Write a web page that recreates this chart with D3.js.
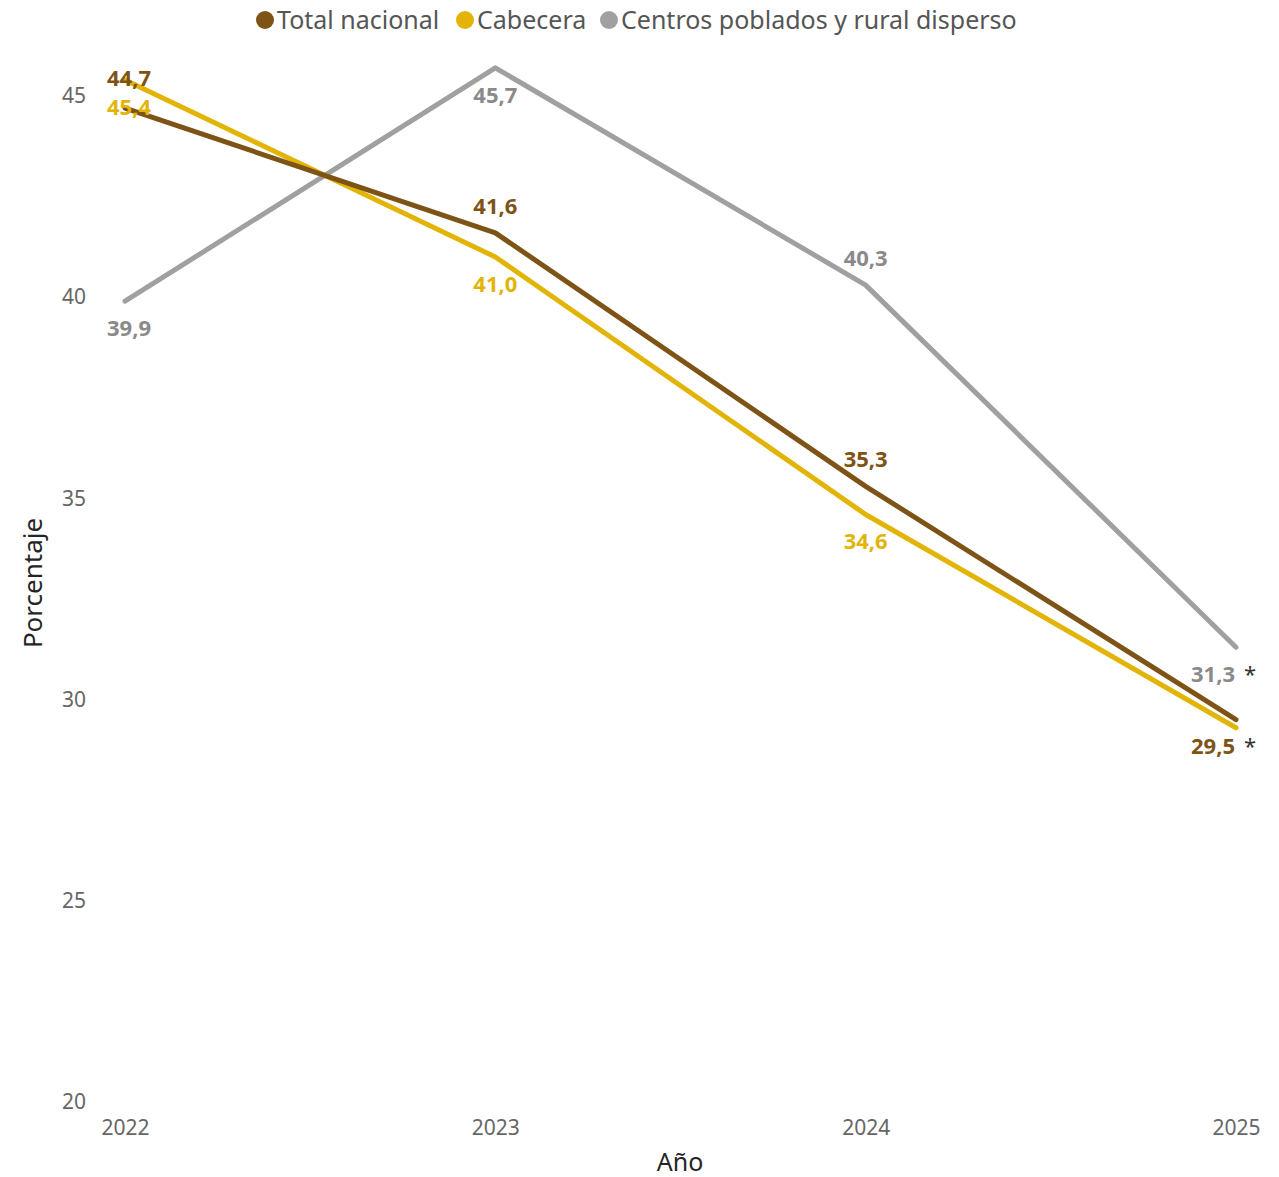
<!DOCTYPE html>
<html>
<head>
<meta charset="utf-8">
<script src="https://cdn.jsdelivr.net/npm/d3@7"></script>
<style>
  body { margin: 0; background: #fff; }
  svg { font-family: "Segoe UI", "Noto Sans", sans-serif; }
</style>
</head>
<body>
<div id="chart"></div>
<script>
// Data
const years = ['2022', '2023', '2024', '2025'];
const seriesNames = ['Total nacional', 'Cabecera', 'Centros poblados y rural disperso'];
const totalNacional = [44.7, 41.6, 35.3, 29.5];
const cabecera = [45.4, 41.0, 34.6, 29.3];
const rural = [39.9, 45.7, 40.3, 31.3];
// where each data label sits: 'a' above, 'b' below, '' hidden
const totalLabelPos = ['a', 'a', 'a', 'b'];
const cabeceraLabelPos = ['b', 'b', 'b', ''];
const ruralLabelPos = ['b', 'b', 'a', 'b'];
const yearNotes = ['', '', '', '*'];
const yTicks = [20, 25, 30, 35, 40, 45];

const width = 1279, height = 1177;
const colors = ['#7D5316', '#E2B406', '#A0A0A0'];
const labelColors = ['#7D5316', '#E2B406', '#8A8A8A'];

const series = [
    { name: seriesNames[0], values: totalNacional, pos: totalLabelPos },
    { name: seriesNames[1], values: cabecera, pos: cabeceraLabelPos },
    { name: seriesNames[2], values: rural, pos: ruralLabelPos }
];

const svg = d3.select('#chart')
    .append('svg')
    .attr('width', width)
    .attr('height', height);

const x = d3.scalePoint()
    .domain(years)
    .range([125, 1236]);

const y = d3.scaleLinear()
    .domain([20, 45])
    .range([1102, 96]);

// Y axis
const yAxis = svg.append('g')
    .attr('transform', 'translate(86,0)')
    .call(d3.axisLeft(y).tickValues(yTicks).tickSize(0).tickPadding(0));
yAxis.select('.domain').remove();
yAxis.selectAll('text')
    .style('font-size', '21px')
    .style('font-family', '"Segoe UI", "Noto Sans", sans-serif')
    .attr('fill', '#666');

// X axis
const xAxis = svg.append('g')
    .attr('transform', 'translate(0,1102)')
    .call(d3.axisBottom(x).tickSize(0).tickPadding(18));
xAxis.select('.domain').remove();
xAxis.selectAll('text')
    .style('font-size', '21px')
    .style('font-family', '"Segoe UI", "Noto Sans", sans-serif')
    .attr('fill', '#666');

// Axis titles
svg.append('text')
    .attr('x', 680)
    .attr('y', 1171)
    .attr('text-anchor', 'middle')
    .style('font-size', '25px')
    .style('fill', '#252525')
    .text('Año');

svg.append('text')
    .attr('transform', 'rotate(-90)')
    .attr('x', -583)
    .attr('y', 42)
    .attr('text-anchor', 'middle')
    .style('font-size', '26px')
    .style('fill', '#252525')
    .text('Porcentaje');

// Lines
const line = d3.line()
    .x((d, i) => x(years[i]))
    .y(d => y(d));

// draw gray first, then yellow, then brown on top near crossings
[2, 1, 0].forEach(si => {
    svg.append('path')
        .datum(series[si].values)
        .attr('d', line)
        .attr('fill', 'none')
        .attr('stroke', colors[si])
        .attr('stroke-width', 5)
        .attr('stroke-linejoin', 'round')
        .attr('stroke-linecap', 'round');
});

// Data labels
series.forEach((s, si) => {
    s.values.forEach((v, i) => {
        const p = s.pos[i];
        if (!p) return;
        const note = yearNotes[i];
        const ly = y(v) + (p === 'a' ? (i === 0 ? -30 : -27) : 27);
        svg.append('text')
            .attr('x', note ? x(years[i]) - 1 : x(years[i]) + (i === 0 ? 4 : 0))
            .attr('y', ly)
            .attr('dy', '0.35em')
            .attr('text-anchor', note ? 'end' : 'middle')
            .style('font-size', '22px')
            .style('font-weight', 'bold')
            .style('fill', labelColors[si])
            .text(d3.format('.1f')(v).replace('.', ','));
        if (note) {
            svg.append('text')
                .attr('x', x(years[i]) + 8)
                .attr('y', ly)
                .attr('dy', '0.35em')
                .style('font-size', '22px')
                .style('fill', '#333')
                .text(note);
        }
    });
});

// Legend
const legendX = [265, 465, 609];
const legend = svg.append('g');
series.forEach((s, si) => {
    legend.append('circle')
        .attr('cx', legendX[si])
        .attr('cy', 20)
        .attr('r', 9)
        .attr('fill', colors[si]);
    legend.append('text')
        .attr('x', legendX[si] + 12)
        .attr('y', 20)
        .attr('dy', '0.35em')
        .style('font-size', '25px')
        .style('fill', '#555')
        .text(s.name);
});
</script>
</body>
</html>
